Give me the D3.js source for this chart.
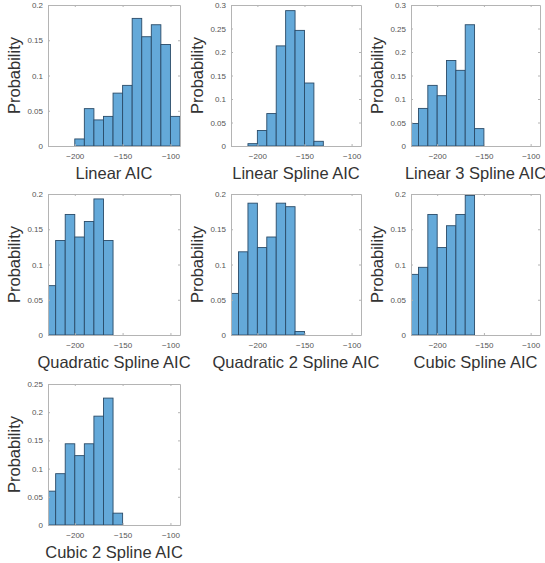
<!DOCTYPE html>
<html>
<head>
<meta charset="utf-8">
<script src="https://cdn.jsdelivr.net/npm/d3@7"></script>
<style>
  html, body { margin: 0; padding: 0; background: #fff; }
  svg { display: block; }
  text { font-family: "Liberation Sans", Arial, sans-serif; }
</style>
</head>
<body>
<script>
// Histogram panels of AIC distributions, bin width 10
const titles = [
  "Linear AIC", "Linear Spline AIC", "Linear 3 Spline AIC",
  "Quadratic Spline AIC", "Quadratic 2 Spline AIC", "Cubic Spline AIC",
  "Cubic 2 Spline AIC"
];
// left edge of the first bin for each panel
const binStarts = [-200, -210, -230, -230, -230, -230, -230];
const binWidth = 10;
// probability per bin
const linearAIC      = [0.010, 0.053, 0.037, 0.042, 0.075, 0.086, 0.181, 0.155, 0.172, 0.144, 0.042];
const linearSpline   = [0.005, 0.033, 0.069, 0.213, 0.288, 0.246, 0.134, 0.010];
const linear3Spline  = [0.048, 0.080, 0.129, 0.107, 0.182, 0.161, 0.258, 0.037];
const quadSpline     = [0.070, 0.134, 0.171, 0.139, 0.161, 0.193, 0.134];
const quad2Spline    = [0.059, 0.118, 0.187, 0.124, 0.139, 0.187, 0.182, 0.005];
const cubicSpline    = [0.086, 0.096, 0.171, 0.124, 0.155, 0.171, 0.198];
const cubic2Spline   = [0.060, 0.091, 0.144, 0.123, 0.144, 0.193, 0.225, 0.021];
const seriesValues = [linearAIC, linearSpline, linear3Spline, quadSpline, quad2Spline, cubicSpline, cubic2Spline];
const yMax = [0.2, 0.3, 0.3, 0.2, 0.2, 0.2, 0.25];
const xDomain = [-228, -90];
const xTicks = [-200, -150, -100];

const W = 545, H = 563;
const colLeft = [48, 231, 411];
const colWidth = [132, 130, 129];
const rowTop = [5, 194, 384];
const plotH = 141;

const svg = d3.select("body").append("svg")
  .attr("width", W).attr("height", H);

const fmtY = v => v === 0 ? "0" : d3.format("")(+v.toFixed(2));

seriesValues.forEach((vals, i) => {
  const col = i % 3, row = Math.floor(i / 3);
  const x0 = colLeft[col], y0 = rowTop[row], w = colWidth[col];
  const g = svg.append("g").attr("transform", `translate(${x0},${y0})`);

  const x = d3.scaleLinear().domain(xDomain).range([0, w]);
  const y = d3.scaleLinear().domain([0, yMax[i]]).range([plotH, 0]);

  const clipId = "clip" + i;
  g.append("clipPath").attr("id", clipId)
    .append("rect").attr("width", w).attr("height", plotH);

  const bins = vals.map((v, k) => ({
    lo: binStarts[i] + k * binWidth,
    hi: binStarts[i] + (k + 1) * binWidth,
    v
  }));

  g.append("g").attr("clip-path", `url(#${clipId})`)
    .selectAll("rect").data(bins).join("rect")
    .attr("x", d => x(d.lo))
    .attr("y", d => y(d.v))
    .attr("width", d => x(d.hi) - x(d.lo))
    .attr("height", d => plotH - y(d.v))
    .attr("fill", "#64a9d9")
    .attr("stroke", "#2a4b68")
    .attr("stroke-width", 0.9);

  const yTicks = d3.range(0, yMax[i] + 1e-9, 0.05);

  // axes with inward ticks on all sides
  const axisColor = "#b4b4b4";
  const styleAxis = sel => {
    sel.select(".domain").attr("stroke", axisColor);
    sel.selectAll(".tick line").attr("stroke", axisColor);
    sel.selectAll(".tick text").attr("fill", "#555").style("font-size", "8px")
      .style("font-family", '"Liberation Sans", Arial, sans-serif');
  };

  g.append("g").attr("transform", `translate(0,${plotH})`)
    .call(d3.axisBottom(x).tickValues(xTicks).tickSizeInner(-2).tickSizeOuter(0).tickPadding(7))
    .call(styleAxis);
  g.append("g")
    .call(d3.axisTop(x).tickValues(xTicks).tickSizeInner(-2).tickSizeOuter(0).tickFormat(""))
    .call(styleAxis);
  g.append("g")
    .call(d3.axisLeft(y).tickValues(yTicks).tickFormat(fmtY).tickSizeInner(-2).tickSizeOuter(0).tickPadding(5))
    .call(styleAxis);
  g.append("g").attr("transform", `translate(${w},0)`)
    .call(d3.axisRight(y).tickValues(yTicks).tickSizeInner(-2).tickSizeOuter(0).tickFormat(""))
    .call(styleAxis);

  g.append("text")
    .attr("x", w / 2).attr("y", plotH + 33)
    .attr("text-anchor", "middle")
    .attr("fill", "#333")
    .style("font-size", "16.5px")
    .text(titles[i]);

  g.append("text")
    .attr("transform", `translate(-28,${plotH / 2}) rotate(-90)`)
    .attr("text-anchor", "middle")
    .attr("fill", "#333")
    .style("font-size", "16.5px")
    .text("Probability");
});
</script>
</body>
</html>
